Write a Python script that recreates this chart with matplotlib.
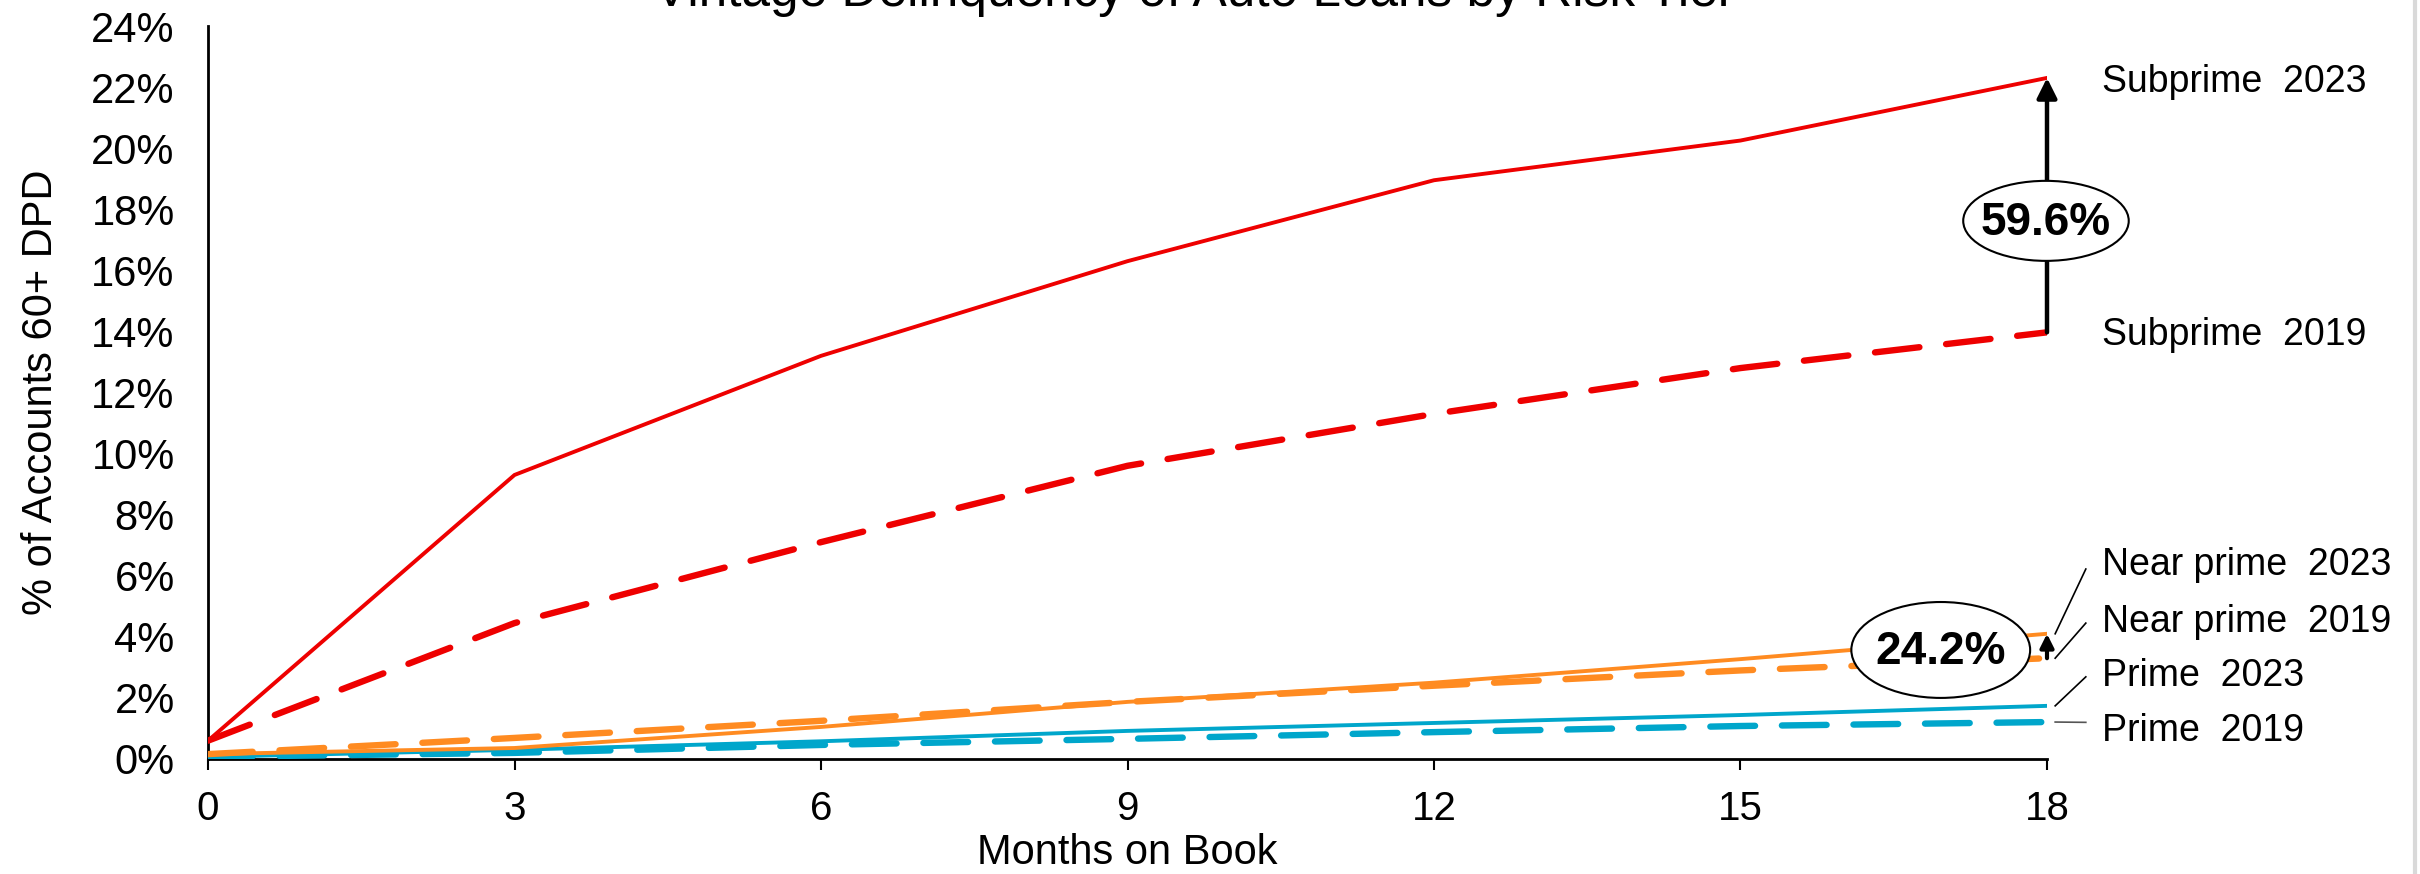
import numpy as np
import matplotlib
matplotlib.use('Agg')
import matplotlib.pyplot as plt
from matplotlib.patches import Ellipse
from matplotlib.lines import Line2D

plt.rcParams['font.family'] = ['Liberation Sans', 'DejaVu Sans']

# months on book and % of accounts 60+ DPD
months = [0, 3, 6, 9, 12, 15, 18]
subprime_2023 = [0.6, 9.3, 13.2, 16.3, 18.95, 20.25, 22.3]
subprime_2019 = [0.6, 4.45, 7.1, 9.6, 11.3, 12.8, 13.97]
near_prime_2023 = [0.16, 0.36, 1.05, 1.87, 2.5, 3.27, 4.1]
near_prime_2019 = [0.16, 0.69, 1.25, 1.87, 2.4, 2.9, 3.3]
prime_2023 = [0.07, 0.3, 0.58, 0.92, 1.18, 1.44, 1.74]
prime_2019 = [0.07, 0.2, 0.46, 0.66, 0.88, 1.08, 1.21]

series_names = ['Subprime  2023', 'Subprime  2019', 'Near prime  2023',
                'Near prime  2019', 'Prime  2023', 'Prime  2019']
subprime_change = '59.6%'
near_prime_change = '24.2%'

red, orange, blue = '#EE0000', '#FF8B21', '#00A6CB'

fig = plt.figure(figsize=(24.2, 8.74), dpi=100)
W, H = 2420, 874
ax = fig.add_axes([208 / W, 1 - 759 / H, (2047 - 208) / W, (759 - 26) / H])

dash = dict(lw=4.6, ls=(0, (7, 4.2)), dash_capstyle='round')
solid = dict(lw=2.8)
ax.plot(months, prime_2019, color=blue, **dash, zorder=3)
ax.plot(months, prime_2023, color=blue, **solid, zorder=3)
ax.plot(months, near_prime_2019, color=orange, **dash, zorder=3)
ax.plot(months, near_prime_2023, color=orange, **solid, zorder=3)
ax.plot(months, subprime_2019, color=red, **dash, zorder=3)
ax.plot(months, subprime_2023, color=red, **solid, zorder=3)

ax.set_xlim(0, 18)
ax.set_ylim(0, 24)
ax.set_xticks(months)
ax.set_yticks(np.arange(0, 25, 2))
ax.set_yticklabels([f'{v}%' for v in range(0, 25, 2)])
ax.tick_params(axis='y', length=0, pad=24, labelsize=30)
ax.tick_params(axis='x', direction='out', length=8, width=1.5, pad=14, labelsize=29)
for s in ['top', 'right']:
    ax.spines[s].set_visible(False)
for s in ['left', 'bottom']:
    ax.spines[s].set_linewidth(2)
ax.set_xlabel('Months on Book', fontsize=30, labelpad=4)
ax.set_ylabel('% of Accounts 60+ DPD', fontsize=30, labelpad=22)

fig.text(0.4936, 0.993, 'Vintage Delinquency of Auto Loans by Risk Tier',
         ha='center', va='baseline', fontsize=37)

# change arrows with ellipse labels
last = months[-1]
ax.annotate('', xy=(last, subprime_2023[-1]), xytext=(last, subprime_2019[-1]),
            arrowprops=dict(arrowstyle='-|>', lw=3.2, color='black', mutation_scale=30,
                            shrinkA=0, shrinkB=0), annotation_clip=False, zorder=4)
ax.add_patch(Ellipse((17.99, 17.62), 1.62, 2.62, facecolor='white', edgecolor='black',
                     lw=1.5, clip_on=False, zorder=5))
ax.text(17.99, 17.55, subprime_change, ha='center', va='center', fontsize=33,
        fontweight='bold', zorder=6)

ax.annotate('', xy=(last, near_prime_2023[-1]), xytext=(last, near_prime_2019[-1]),
            arrowprops=dict(arrowstyle='-|>', lw=3, color='black', mutation_scale=20,
                            shrinkA=0, shrinkB=0), annotation_clip=False, zorder=4)
ax.add_patch(Ellipse((16.96, 3.57), 1.75, 3.14, facecolor='white', edgecolor='black',
                     lw=1.5, clip_on=False, zorder=5))
ax.text(16.96, 3.5, near_prime_change, ha='center', va='center', fontsize=33,
        fontweight='bold', zorder=6)

# series labels on the right
label_y = [22.17, 13.88, 6.35, 4.49, 2.72, 0.92]
for name, y in zip(series_names, label_y):
    ax.text(18.54, y, name, ha='left', va='center', fontsize=27, clip_on=False)

# leader lines for the crowded lower labels
leader_end = [6.22, 4.45, 2.69, 1.2]
leader_color = ['black', 'black', 'black', '#555555']
for vals, y_end, c in zip([near_prime_2023, near_prime_2019, prime_2023, prime_2019],
                          leader_end, leader_color):
    ax.plot([18.08, 18.38], [vals[-1], y_end], color=c, lw=1.2, clip_on=False)

fig.add_artist(Line2D([2415 / W, 2415 / W], [0, 1], color='#d9d9d9', lw=3))

fig.savefig('out.png', dpi=100)
